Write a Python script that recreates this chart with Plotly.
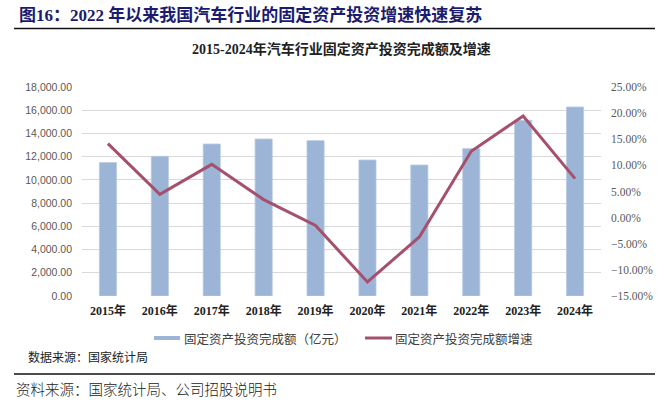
import plotly.graph_objects as go

years = ["2015年", "2016年", "2017年", "2018年", "2019年", "2020年", "2021年", "2022年", "2023年", "2024年"]
invest = [11490, 12030, 13090, 13520, 13380, 11710, 11280, 12690, 15130, 16280]
growth = [0.1417, 0.0446, 0.1020, 0.0345, -0.0150, -0.1232, -0.0370, 0.1270, 0.1945, 0.0747]

W, H = 671, 403
L, R, T, B = 82, 601, 87, 296

def px(x):
    return (x - L) / (R - L)

def py(y):
    return (B - y) / (B - T)

BAR = "#9CB4D6"
LINE = "#A5506C"
SERIF = "Liberation Serif, Noto Sans CJK SC, serif"
SANS = "Liberation Sans, Noto Sans CJK SC, sans-serif"
CJK = "Noto Sans CJK SC, sans-serif"

fig = go.Figure()
fig.add_trace(go.Bar(x=years, y=invest, name="固定资产投资完成额（亿元）",
                     marker=dict(color=BAR, line=dict(color="#B8CAE3", width=0.8)),
                     width=0.33, yaxis="y", showlegend=False))
fig.add_trace(go.Scatter(x=years, y=growth, name="固定资产投资完成额增速",
                         mode="lines", line=dict(color=LINE, width=3),
                         yaxis="y2", showlegend=False))

fig.update_layout(
    width=W, height=H,
    margin=dict(l=L, r=W - R, t=T, b=H - B, pad=0),
    plot_bgcolor="white", paper_bgcolor="white",
    bargap=0.5,
    xaxis=dict(type="category", showgrid=False, showline=False, zeroline=False,
               ticks="", ticklabelstandoff=6,
               tickfont=dict(family=SERIF, size=12, color="#222222", weight="bold")),
    yaxis=dict(range=[0, 18000], dtick=2000, tickformat=",.2f",
               showgrid=True, gridcolor="#D9D9D9", gridwidth=1, zeroline=False,
               showline=False, ticks="", ticklabelstandoff=9,
               tickfont=dict(family=SANS, size=10.5, color="#595959")),
    yaxis2=dict(range=[-0.15, 0.25], dtick=0.05, tickformat=".2%",
                overlaying="y", side="right", showgrid=False, zeroline=False,
                showline=False, ticks="", ticklabelstandoff=9,
                tickfont=dict(family=SERIF, size=11.5, color="#595959")),
)

ann = []
ann.append(dict(text="图16：2022 年以来我国汽车行业的固定资产投资增速快速复苏",
                x=px(17), y=py(15), xref="paper", yref="paper", xanchor="left", yanchor="middle",
                showarrow=False, font=dict(family=SERIF, size=17, color="#1B1B6F", weight="bold")))
ann.append(dict(text="2015-2024年汽车行业固定资产投资完成额及增速",
                x=px(341), y=py(49), xref="paper", yref="paper", xanchor="center", yanchor="middle",
                showarrow=False, font=dict(family=SERIF, size=14, color="#222222", weight="bold")))
ann.append(dict(text="固定资产投资完成额（亿元）",
                x=px(182), y=py(338), xref="paper", yref="paper", xanchor="left", yanchor="middle",
                showarrow=False, font=dict(family=CJK, size=12.5, color="#404040")))
ann.append(dict(text="固定资产投资完成额增速",
                x=px(393), y=py(338), xref="paper", yref="paper", xanchor="left", yanchor="middle",
                showarrow=False, font=dict(family=CJK, size=12.5, color="#404040")))
ann.append(dict(text="数据来源：国家统计局",
                x=px(26), y=py(356), xref="paper", yref="paper", xanchor="left", yanchor="middle",
                showarrow=False, font=dict(family=CJK, size=12, color="#222222")))
ann.append(dict(text="资料来源：国家统计局、公司招股说明书",
                x=px(14), y=py(388), xref="paper", yref="paper", xanchor="left", yanchor="middle",
                showarrow=False, font=dict(family=CJK, size=14.5, color="#222222", weight=300)))

shapes = []
shapes.append(dict(type="line", xref="paper", yref="paper", x0=px(14), x1=px(655), y0=py(28.5), y1=py(28.5),
                   line=dict(color="#111111", width=1.5)))
shapes.append(dict(type="line", xref="paper", yref="paper", x0=px(14), x1=px(655), y0=py(374), y1=py(374),
                   line=dict(color="#111111", width=1.5)))
shapes.append(dict(type="rect", xref="paper", yref="paper", x0=px(154), x1=px(180), y0=py(340), y1=py(336),
                   fillcolor=BAR, line=dict(width=0)))
shapes.append(dict(type="line", xref="paper", yref="paper", x0=px(365), x1=px(392), y0=py(338), y1=py(338),
                   line=dict(color=LINE, width=3)))

fig.update_layout(annotations=ann, shapes=shapes)

post = "document.body.style.margin='0px';document.body.style.overflow='hidden';"
fig.write_html("out.html", post_script=post, config={"displayModeBar": False})
